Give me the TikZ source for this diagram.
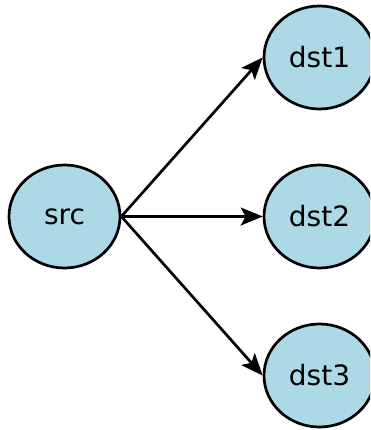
\documentclass[tikz,border=0pt]{standalone}
\usepackage{fontspec}
\setmainfont{DejaVu Sans}
\usetikzlibrary{arrows.meta,shapes.geometric}
\begin{document}
\begin{tikzpicture}[x=1pt,y=-1pt,
  vertex/.style={ellipse,draw=black,line width=2.7pt,fill=nodeblue,
    minimum width=111pt,minimum height=103pt,inner sep=0pt,
    font=\fontsize{28}{33}\selectfont},
  edge/.style={line width=2.7pt,-{Stealth[length=22pt,width=18pt,inset=5pt]}}]
\definecolor{nodeblue}{HTML}{ADD8E6}
\useasboundingbox (0,0) rectangle (370,430);
\clip (0,0) rectangle (370,430);
\node[vertex] (src)  at (64.5,216.5) {src};
\node[vertex] (dst1) at (319.5,57.5)  {dst1};
\node[vertex] (dst2) at (319.5,216.5) {dst2};
\node[vertex] (dst3) at (319.5,375.5) {dst3};
\draw[edge] (src.east) -- (dst1.west);
\draw[edge] (src.east) -- (dst2.west);
\draw[edge] (src.east) -- (dst3.west);
\end{tikzpicture}
\end{document}
